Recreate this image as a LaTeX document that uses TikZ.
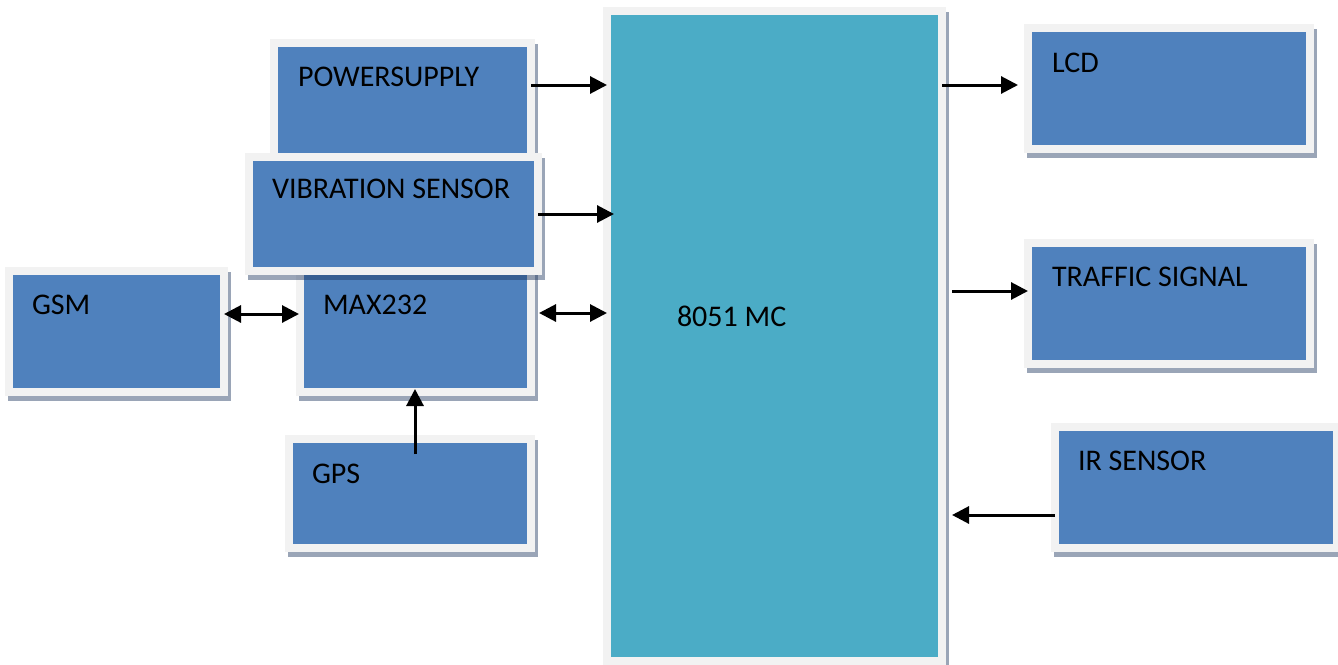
\documentclass[tikz,border=0pt]{standalone}
\usepackage{fontspec}
\setmainfont{Carlito}
\usetikzlibrary{arrows.meta,fit}
\definecolor{boxblue}{RGB}{79,129,189}
\definecolor{mccyan}{RGB}{75,172,198}
\definecolor{framec}{RGB}{242,242,242}
\definecolor{shadowc}{RGB}{30,55,95}
\newcommand{\myblock}[6]{%
  \fill[shadowc, fill opacity=0.45] (#2-5,#3-3) rectangle (#4+11,#5+13);
  \node[blockbox, fill=#6, fit={(#2-4,#3-4) (#4+4,#5+4)}] (#1) {};
}
\begin{document}
\begin{tikzpicture}[x=1pt,y=-1pt,
  blockbox/.style={draw=framec, line width=8pt, inner sep=0pt, outer sep=0pt},
  lbl/.style={anchor=base west, inner sep=0pt, outer sep=0pt, font=\fontsize{30pt}{36pt}\selectfont, text=black},
  arr/.style={line width=3pt, -{Triangle[length=17pt,width=17pt]}},
  biarr/.style={line width=3pt, {Triangle[length=17pt,width=17pt]}-{Triangle[length=17pt,width=17pt]}}]
\useasboundingbox (0,0) rectangle (1338,664);
% blocks (inner coloured area)
\myblock{ps}{278}{47}{527}{200}{boxblue}
\myblock{max}{304}{275}{527}{388}{boxblue}
\myblock{vib}{253}{161}{534}{267}{boxblue}
\myblock{gsm}{13}{275}{220}{388}{boxblue}
\myblock{gps}{293}{443}{527}{544}{boxblue}
\myblock{mc}{611}{15}{938}{657}{mccyan}
\myblock{lcd}{1032}{32}{1306}{145}{boxblue}
\myblock{ts}{1032}{247}{1306}{360}{boxblue}
\myblock{ir}{1059}{431}{1333}{544}{boxblue}
% labels
\node[lbl] (pst) at (298,86) {POWERSUPPLY};
\node[lbl] (vibt) at (272,198) {VIBRATION SENSOR};
\node[lbl] (gsmt) at (32,314) {GSM};
\node[lbl] (maxt) at (323,314) {MAX232};
\node[lbl] (gpst) at (312,483) {GPS};
\node[lbl] (mct) at (677,326) {8051 MC};
\node[lbl] (lcdt) at (1052,72) {LCD};
\node[lbl] (tst) at (1052,286) {TRAFFIC SIGNAL};
\node[lbl] (irt) at (1078,470) {IR SENSOR};
% connectors
\draw[arr] (ps.east |- 0,85) -- (mc.west |- 0,85);
\draw[arr, shorten >=-7pt] (vib.east |- 0,214) -- (mc.west |- 0,214);
\draw[biarr] (gsm.east |- 0,314) -- ([xshift=-1pt]max.west |- 0,314);
\draw[biarr, shorten <=8pt] (max.east |- 0,313) -- (mc.west |- 0,313);
\draw[arr, shorten <=-15pt, shorten >=-3pt] (gps.north -| 415,0) -- (max.south -| 415,0);
\draw[arr, shorten >=10pt] (mc.east |- 0,85) -- (lcd.west |- 0,85);
\draw[arr, shorten <=10pt] (mc.east |- 0,291) -- (ts.west |- 0,291);
\draw[arr, shorten >=10pt] (ir.west |- 0,515) -- (mc.east |- 0,515);
\end{tikzpicture}
\end{document}
